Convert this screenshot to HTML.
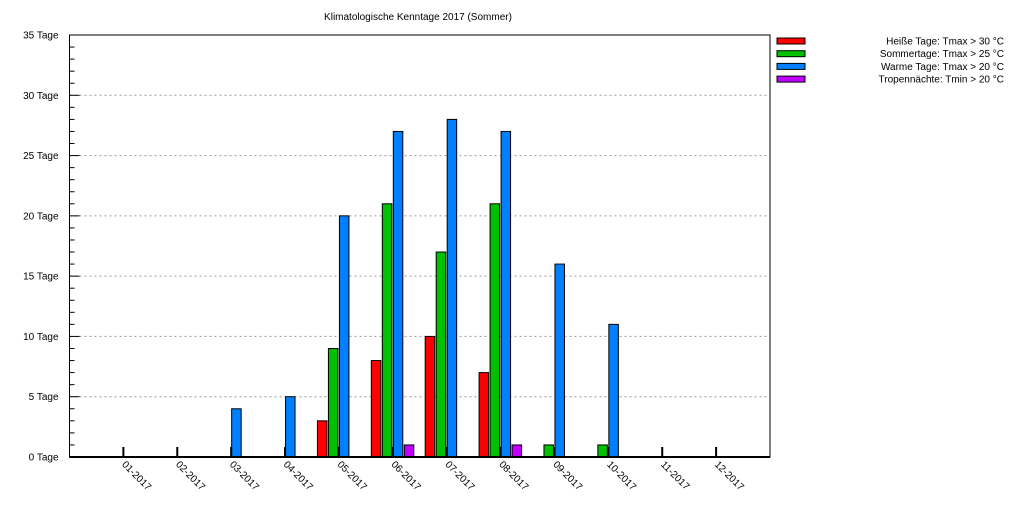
<!DOCTYPE html>
<html><head><meta charset="utf-8"><style>
body{margin:0;background:#fff;width:1015px;height:507px;overflow:hidden}
svg text{font-family:"Liberation Sans","DejaVu Sans",sans-serif;font-size:10px;fill:#000}
</style></head><body>
<svg id="c" width="1015" height="507" xmlns="http://www.w3.org/2000/svg">
<text x="418" y="20" text-anchor="middle">Klimatologische Kenntage 2017 (Sommer)</text>
<g id="grid"></g><g id="bars"></g><g id="axes"></g><g id="legend"></g>
</svg>
<script>
const months=["01-2017","02-2017","03-2017","04-2017","05-2017","06-2017","07-2017","08-2017","09-2017","10-2017","11-2017","12-2017"];
const heisse=[0,0,0,0,3,8,10,7,0,0,0,0];
const sommer=[0,0,0,0,9,21,17,21,1,1,0,0];
const warme=[0,0,4,5,20,27,28,27,16,11,0,0];
const tropen=[0,0,0,0,0,1,0,1,0,0,0,0];
const seriesNames=["Heiße Tage: Tmax > 30 °C","Sommertage: Tmax > 25 °C","Warme Tage: Tmax > 20 °C","Tropennächte: Tmin > 20 °C"];
const yTicks=[0,5,10,15,20,25,30,35];
const NS="http://www.w3.org/2000/svg";
const L=69.5,R=770,T=35,B=457,yMax=35;
const y=v=>B-(B-T)*v/yMax;
const x=i=>L+(R-L)*(i+1)/13;
function mk(tag,attrs,parent){const e=document.createElementNS(NS,tag);for(const k in attrs)e.setAttribute(k,attrs[k]);document.getElementById(parent).appendChild(e);return e;}
yTicks.forEach(t=>{
  if(t>0&&t<35){const g=mk('line',{x1:L,x2:R,y1:y(t),y2:y(t),stroke:'#999','stroke-dasharray':'2,3'},'grid');
  
  }
  const tl=mk('text',{x:L-11,y:y(t)+3.5,'text-anchor':'end'},'axes');tl.textContent=t+" Tage";
  
  
  mk('line',{x1:L,x2:L+10,y1:y(t),y2:y(t),stroke:'#000'},'axes');
});
for(let v=0;v<35;v++){if(v%5)mk('line',{x1:L,x2:L+5,y1:y(v),y2:y(v),stroke:'#000'},'axes');}
const series=[heisse,sommer,warme,tropen];
const colors=["#ff0000","#00c000","#0080ff","#c000ff"];
const offs=[-21.5,-10.5,0.5,11.5];
const keys=["heisse","sommer","warme","tropen"];
months.forEach((m,i)=>{
  const cx=x(i);
  series.forEach((s,k)=>{
    if(s[i]>0){const r=mk('rect',{x:cx+offs[k],y:y(s[i]),width:9.5,height:B-y(s[i]),fill:colors[k],stroke:'#000','stroke-width':1},'bars');
    
    }
  });
  mk('line',{x1:cx,x2:cx,y1:B,y2:B-10,stroke:'#000','stroke-width':2},'axes');
  const tx=mk('text',{x:0,y:0,transform:`translate(${cx-2},${B+8}) rotate(45)`},'axes');tx.textContent=m;
  
  
});
const ax=mk('rect',{x:L,y:T,width:R-L,height:B-T,fill:'none',stroke:'#000','stroke-width':1},'axes');


mk('line',{x1:L,x2:R,y1:B,y2:B,stroke:'#000','stroke-width':2},'axes');
seriesNames.forEach((n,k)=>{
  const yy=41+k*12.7;
  const r=mk('rect',{x:777,y:yy-3,width:28,height:6,fill:colors[k],stroke:'#000'},'legend');
  
  
  const t=mk('text',{x:1004,y:yy+3.5,'text-anchor':'end'},'legend');t.textContent=n;
  
  
});
</script>
</body></html>
